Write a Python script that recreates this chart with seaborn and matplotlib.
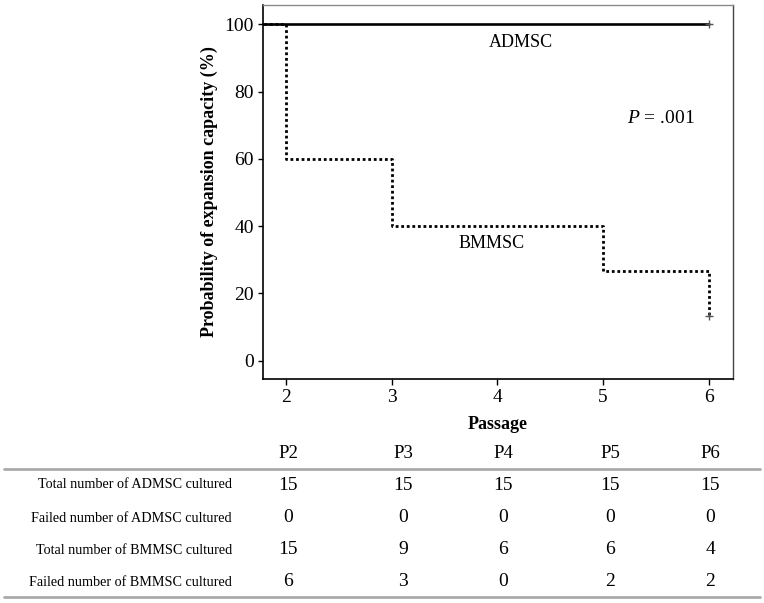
import seaborn as sns
import matplotlib.pyplot as plt

# Kaplan-Meier style curves (percent still expanding)
ad_time = [0, 2, 3, 4, 5, 6]
ad_pct = [100, 100, 100, 100, 100, 100]
bm_time = [0, 2, 3, 4, 5, 6]
bm_pct = [100, 60, 40, 40, 26.7, 13.3]
censor_x = [6, 6]
censor_y = [100, 13.3]

# table under the plot
passages = ['P2', 'P3', 'P4', 'P5', 'P6']
row_names = ['Total number of ADMSC cultured', 'Failed number of ADMSC cultured',
             'Total number of BMMSC cultured', 'Failed number of BMMSC cultured']
total_ad = [15, 15, 15, 15, 15]
failed_ad = [0, 0, 0, 0, 0]
total_bm = [15, 9, 6, 6, 4]
failed_bm = [6, 3, 0, 2, 2]

sns.set_theme(style="ticks")
plt.rcParams['font.family'] = ['Liberation Serif', 'DejaVu Serif']
plt.rcParams['mathtext.fontset'] = 'custom'
plt.rcParams['mathtext.rm'] = 'Liberation Serif'
plt.rcParams['mathtext.it'] = 'Liberation Serif:italic'
for key in ['text.color', 'axes.labelcolor', 'xtick.color', 'ytick.color']:
    plt.rcParams[key] = 'black'

W, H = 764, 603
fig = plt.figure(figsize=(W / 100, H / 100), dpi=100)
ax = fig.add_axes([263 / W, 1 - 379 / H, (733 - 263) / W, (379 - 5) / H])

sns.lineplot(x=ad_time, y=ad_pct, drawstyle='steps-post', color='black', lw=1.9, ax=ax)
sns.lineplot(x=bm_time, y=bm_pct, drawstyle='steps-post', color='black', lw=2.0,
             linestyle=(0, (1, 1)), ax=ax)
sns.scatterplot(x=censor_x, y=censor_y, marker='+', s=30, color='#555555', linewidth=1, ax=ax, zorder=5)

ax.set_xlim(1.78, 6.23)
ax.set_ylim(-5.4, 105.7)
ax.set_xticks([2, 3, 4, 5, 6])
ax.set_yticks([0, 20, 40, 60, 80, 100])
ax.tick_params(axis='both', labelsize=14, color='black', width=1, pad=3)
ax.tick_params(axis='x', length=4.5)
ax.tick_params(axis='y', length=3.6)

for side in ['left', 'bottom']:
    ax.spines[side].set_color('black')
    ax.spines[side].set_linewidth(1.2)
ax.spines['top'].set_color('#8a8a8a')
ax.spines['right'].set_color('#444444')
ax.spines['top'].set_linewidth(1)
ax.spines['right'].set_linewidth(1)

ax.set_xlabel('Passage', fontsize=13, fontweight='bold', labelpad=7)
ax.set_ylabel('Probability of expansion capacity (%)', fontsize=13, fontweight='bold', labelpad=5)

ax.text(3.92, 94.6, 'ADMSC', fontsize=13, va='center', ha='left')
ax.text(3.94, 34.8, 'BMMSC', fontsize=13, va='center', ha='center')
ax.text(5.55, 72, r'$\it{P}$ = .001', fontsize=14, va='center', ha='center')

# table drawn in figure pixels
col_x = [288, 403, 503, 610, 710]
row_y = [485, 518, 550, 582]
for x, p in zip(col_x, passages):
    fig.text(x / W, 1 - 454 / H, p, fontsize=13.5, ha='center', va='center')
for y, name, vals in zip(row_y, row_names, [total_ad, failed_ad, total_bm, failed_bm]):
    fig.text(232 / W, 1 - y / H, name, fontsize=10.2, ha='right', va='center')
    for x, v in zip(col_x, vals):
        fig.text(x / W, 1 - y / H, str(v), fontsize=14, ha='center', va='center')
for y in [469, 597]:
    fig.add_artist(plt.Line2D([4 / W, 760 / W], [1 - y / H, 1 - y / H], color='#aaaaaa', lw=2))

fig.savefig('out.png', dpi=100)
